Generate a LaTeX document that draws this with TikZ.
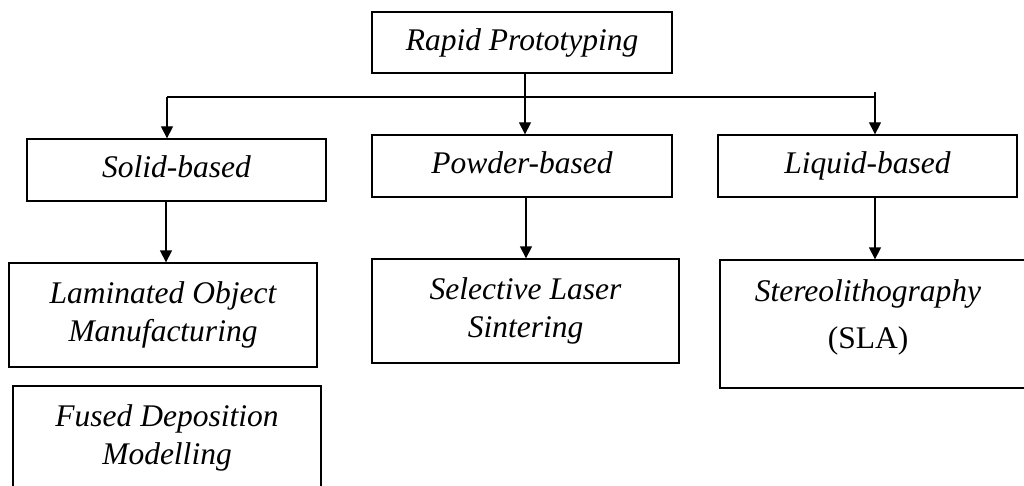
\documentclass[tikz,border=0pt]{standalone}
\usepackage{fontspec}
\setmainfont{Liberation Serif}
\usetikzlibrary{arrows.meta}
\begin{document}
\begin{tikzpicture}[x=1pt,y=-1pt,
  box/.style={draw, line width=1.3pt, inner sep=0pt, align=center,
    font=\fontsize{31.5}{38}\selectfont\itshape},
  one/.style={box, text height=21pt, text depth=5pt},
  txt/.style={inner sep=0pt, align=center, font=\fontsize{31.5}{38}\selectfont\itshape},
  conn/.style={line width=1.3pt},
  arr/.style={line width=1.3pt, -{Triangle[width=12pt,length=12pt]}}]
\useasboundingbox (0,0) rectangle (1024,486);
\clip (0,0) rectangle (1024,486);
% boxes
\node[one, minimum width=300pt, minimum height=61pt] (rp) at (522,42.5) {Rapid Prototyping};
\node[one, minimum width=299pt, minimum height=62pt] (solid) at (176.5,170) {Solid-based};
\node[one, minimum width=300pt, minimum height=62pt] (powder) at (522,166) {Powder-based};
\node[one, minimum width=299pt, minimum height=62pt] (liquid) at (867.5,166) {Liquid-based};
\node[box, minimum width=308pt, minimum height=104pt] (lom) at (163,315) {Laminated Object\\Manufacturing};
\node[box, minimum width=307pt, minimum height=104pt] (sls) at (525.5,311) {Selective Laser\\Sintering};
\node[box, minimum width=310pt, minimum height=128pt] (sla) at (875,324) {};
\node[txt] (slatext) at (868,317) {Stereolithography\\[9pt]\upshape(SLA)};
\node[box, minimum width=308pt, minimum height=120pt] (fdm) at (167,446) {};
\node[txt] (fdmtext) at (167,438) {Fused Deposition\\Modelling};
% connectors
\coordinate (jl) at (167,97);
\coordinate (jm) at (525,97);
\coordinate (jr) at (875,97);
\coordinate (cs) at (166,0);
\coordinate (cp) at (526,0);
\draw[conn] (jl) -- (jr);
\draw[conn] (jr) -- ++(0,-5);
\draw[arr] (jl) -- (jl |- solid.north);
\draw[arr] (jr) -- (jr |- liquid.north);
\draw[arr] (jm |- rp.south) -- (jm |- powder.north);
\draw[arr] (cs |- solid.south) -- (cs |- lom.north);
\draw[arr] (cp |- powder.south) -- (cp |- sls.north);
\draw[arr] (jr |- liquid.south) -- (jr |- sla.north);
\end{tikzpicture}
\end{document}
